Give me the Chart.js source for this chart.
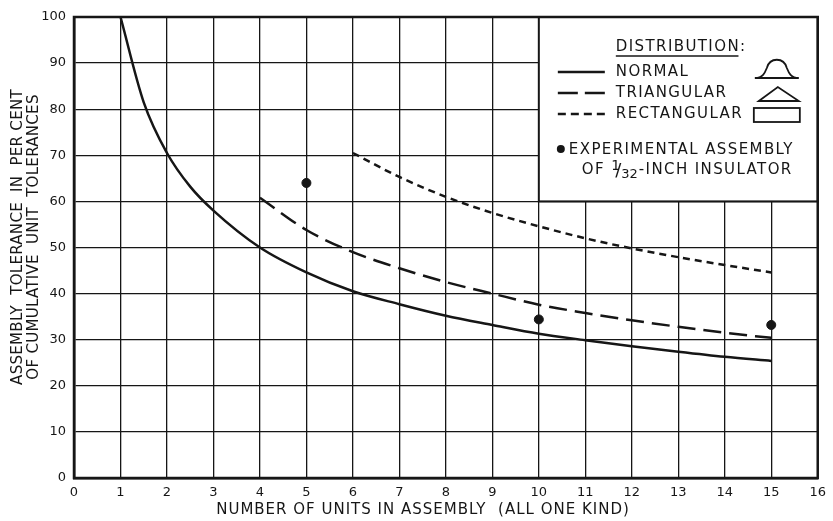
<!DOCTYPE html>
<html>
<head>
<meta charset="utf-8">
<script src="https://cdn.jsdelivr.net/npm/chart.js@4.4.1/dist/chart.umd.min.js"></script>
<style>
  html, body { margin: 0; padding: 0; background: #fff; }
</style>
</head>
<body>
<canvas id="tolChart" width="833" height="521"></canvas>
<script>
// data
const normalUnits = [1, 1.5, 2, 2.5, 3, 4, 5, 6, 7, 8, 9, 10, 11, 12, 13, 14, 15];
const normalTol = [100, 81.5, 70.5, 63.2, 58, 50, 44.6, 40.5, 37.7, 35.2, 33.2, 31.3, 29.9, 28.6, 27.4, 26.3, 25.4];

const triUnits = [4, 5, 6, 7, 8, 9, 10, 11, 12, 13, 14, 15];
const triTol = [60.8, 53.8, 49, 45.5, 42.5, 40, 37.6, 35.8, 34.2, 32.8, 31.5, 30.4];

const rectUnits = [6, 7, 8, 9, 10, 11, 12, 13, 14, 15];
const rectTol = [70.5, 65.3, 61, 57.5, 54.6, 52, 49.8, 47.9, 46.2, 44.6];

const expUnits = [5, 10, 15];
const expTol = [64, 34.4, 33.2];

const xMin = 0, xMax = 16, yMin = 0, yMax = 100;

const xTitle = "NUMBER OF UNITS IN ASSEMBLY  (ALL ONE KIND)";
const yTitle = ["ASSEMBLY  TOLERANCE  IN  PER CENT", "OF CUMULATIVE  UNIT  TOLERANCES"];

const INK = "#161616";
const FONT = "'DejaVu Sans', sans-serif";

function toPoints(xs, ys) {
    return xs.map((v, i) => ({ x: v, y: ys[i] }));
}

// axis titles, placed like the hand lettering (x title sits a bit left of centre)
const axisTitles = {
    id: "axisTitles",
    afterDraw(chart) {
        const ctx = chart.ctx;
        ctx.save();
        ctx.fillStyle = INK;
        ctx.font = "15px " + FONT;
        ctx.letterSpacing = "1px";
        ctx.textAlign = "center";
        ctx.textBaseline = "middle";
        ctx.fillText(xTitle, 423, 510);

        ctx.letterSpacing = "0.3px";
        ctx.translate(0, 237);
        ctx.rotate(-Math.PI / 2);
        ctx.fillText(yTitle[0], 0, 18);
        ctx.fillText(yTitle[1], 0, 34);
        ctx.restore();
    }
};

// legend box in the upper right corner
const legendBox = {
    id: "legendBox",
    afterDatasetsDraw(chart) {
        const ctx = chart.ctx;
        const x = chart.scales.x, y = chart.scales.y;
        const L = x.getPixelForValue(10), R = x.getPixelForValue(16);
        const T = y.getPixelForValue(100), B = y.getPixelForValue(60);

        ctx.save();
        ctx.letterSpacing = "1.4px";
        ctx.fillStyle = "#fff";
        ctx.fillRect(L, T, R - L, B - T);
        ctx.strokeStyle = INK;
        ctx.lineWidth = 2;
        ctx.strokeRect(L, T, R - L, B - T);

        ctx.fillStyle = INK;
        ctx.textBaseline = "middle";
        ctx.textAlign = "left";
        ctx.font = "15px " + FONT;

        // heading
        ctx.fillText("DISTRIBUTION:", L + 77, T + 30);
        const hw = ctx.measureText("DISTRIBUTION:").width;
        ctx.lineWidth = 1.5;
        ctx.beginPath();
        ctx.moveTo(L + 77, T + 39);
        ctx.lineTo(L + 77 + hw - 8, T + 39);
        ctx.stroke();

        const rows = [
            { label: "NORMAL", dash: [], dy: 55 },
            { label: "TRIANGULAR", dash: [20, 7], dy: 76 },
            { label: "RECTANGULAR", dash: [8, 5], dy: 97 }
        ];
        rows.forEach(r => {
            ctx.setLineDash(r.dash);
            ctx.lineWidth = 2.5;
            ctx.beginPath();
            ctx.moveTo(L + 19, T + r.dy);
            ctx.lineTo(L + 66, T + r.dy);
            ctx.stroke();
            ctx.setLineDash([]);
            ctx.fillText(r.label, L + 77, T + r.dy);
        });

        // distribution shapes
        const ix = L + 216, iw = 44, b = T + 61;
        ctx.lineWidth = 1.8;
        ctx.beginPath();
        ctx.moveTo(ix, b);
        ctx.bezierCurveTo(ix + 8, b, ix + 10, b - 5, ix + 12, b - 10);
        ctx.bezierCurveTo(ix + 15, b - 21, ix + 29, b - 21, ix + 32, b - 10);
        ctx.bezierCurveTo(ix + 34, b - 5, ix + 36, b, ix + iw, b);
        ctx.closePath();
        ctx.stroke();

        ctx.beginPath();
        ctx.moveTo(ix + 4, T + 84);
        ctx.lineTo(ix + iw / 2 + 1, T + 70);
        ctx.lineTo(ix + iw, T + 84);
        ctx.closePath();
        ctx.stroke();

        ctx.strokeRect(ix - 1, T + 91, iw + 2, 14);

        // experimental note
        ctx.beginPath();
        ctx.arc(L + 22, T + 132, 4, 0, Math.PI * 2);
        ctx.fill();
        ctx.fillText("EXPERIMENTAL ASSEMBLY", L + 30, T + 133);

        let tx = L + 43;
        ctx.fillText("OF ", tx, T + 153);
        tx += ctx.measureText("OF ").width;
        ctx.letterSpacing = "0px";
        ctx.font = "14px " + FONT;
        ctx.fillText("1", tx, T + 149);
        ctx.font = "18px " + FONT;
        ctx.fillText("/", tx + 4, T + 154);
        ctx.font = "13px " + FONT;
        ctx.fillText("32", tx + 10, T + 158);
        tx += 11 + ctx.measureText("32").width;
        ctx.letterSpacing = "1.4px";
        ctx.font = "15px " + FONT;
        ctx.fillText("-INCH INSULATOR", tx, T + 153);

        // outer frame of the plot
        const ca = chart.chartArea;
        ctx.lineWidth = 2.5;
        ctx.strokeRect(ca.left, ca.top, ca.right - ca.left, ca.bottom - ca.top);
        ctx.restore();
    }
};

const lineStyle = {
    borderColor: INK,
    borderWidth: 2.5,
    pointRadius: 0,
    fill: false,
    cubicInterpolationMode: "monotone"
};

new Chart(document.getElementById("tolChart"), {
    type: "line",
    data: {
        datasets: [
            Object.assign({ label: "NORMAL", data: toPoints(normalUnits, normalTol) }, lineStyle),
            Object.assign({ label: "TRIANGULAR", data: toPoints(triUnits, triTol), borderDash: [18, 8] }, lineStyle),
            Object.assign({ label: "RECTANGULAR", data: toPoints(rectUnits, rectTol), borderDash: [7, 5] }, lineStyle),
            {
                type: "scatter",
                label: "EXPERIMENTAL ASSEMBLY",
                data: toPoints(expUnits, expTol),
                pointRadius: 4.5,
                pointBackgroundColor: INK,
                pointBorderColor: INK,
                showLine: false
            }
        ]
    },
    options: {
        responsive: false,
        animation: false,
        layout: { padding: { top: 17, right: 10, left: 0, bottom: 0 } },
        plugins: {
            legend: { display: false },
            tooltip: { enabled: false }
        },
        scales: {
            x: {
                type: "linear",
                min: xMin,
                max: xMax,
                ticks: { stepSize: 1, color: INK, font: { family: FONT, size: 13 }, padding: 7 },
                grid: { color: INK, lineWidth: 1.3, drawTicks: false },
                border: { color: INK, width: 2.5 },
                afterFit(scale) { scale.height = 43; }
            },
            y: {
                min: yMin,
                max: yMax,
                ticks: { stepSize: 10, color: INK, font: { family: FONT, size: 13 }, padding: 8 },
                grid: { color: INK, lineWidth: 1.3, drawTicks: false },
                border: { color: INK, width: 2.5 },
                afterFit(scale) { scale.width = 74; }
            }
        }
    },
    plugins: [legendBox, axisTitles]
});
</script>
</body>
</html>
